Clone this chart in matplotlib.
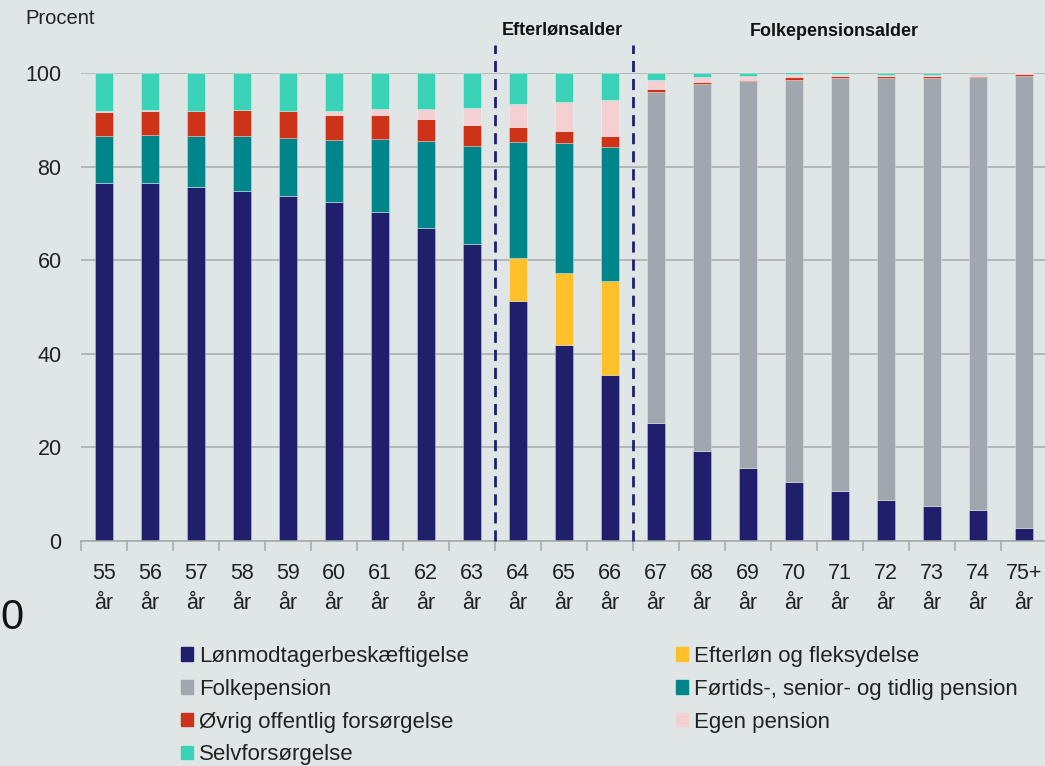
import numpy as np
import matplotlib
matplotlib.use('Agg')
import matplotlib.pyplot as plt
from matplotlib.patches import Patch

# age groups
ages = ['55\når', '56\når', '57\når', '58\når', '59\når', '60\når', '61\når', '62\når', '63\når',
        '64\når', '65\når', '66\når', '67\når', '68\når', '69\når', '70\når', '71\når', '72\når',
        '73\når', '74\når', '75+\når']

# shares in percent (bottom to top)
loenmodtager = [76.6, 76.6, 75.6, 74.7, 73.7, 72.4, 70.2, 66.8, 63.4, 51.3, 41.9, 35.5,
                25.3, 19.3, 15.5, 12.7, 10.6, 8.7, 7.5, 6.6, 2.7]
efterloen = [0, 0, 0, 0, 0, 0, 0, 0, 0, 9.1, 15.4, 20.0,
             0, 0, 0, 0, 0, 0, 0, 0, 0]
folkepension = [0, 0, 0, 0, 0, 0, 0, 0, 0, 0, 0, 0,
                70.6, 78.3, 82.7, 85.9, 88.3, 90.2, 91.4, 92.5, 96.6]
foertids = [9.9, 10.2, 10.9, 11.8, 12.4, 13.3, 15.8, 18.7, 21.0, 24.8, 27.7, 28.6,
            0, 0, 0, 0, 0, 0, 0, 0, 0]
oevrig = [5.2, 5.1, 5.3, 5.5, 5.7, 5.3, 5.0, 4.6, 4.5, 3.3, 2.7, 2.4,
          0.7, 0.4, 0.3, 0.5, 0.45, 0.4, 0.4, 0.3, 0.5]
egen_pension = [0.1, 0.3, 0.1, 0.2, 0.1, 0.9, 1.4, 2.3, 3.7, 4.8, 6.2, 7.7,
                2.0, 1.2, 0.9, 0.6, 0.45, 0.3, 0.3, 0.3, 0.1]
selvforsoergelse = [8.2, 7.8, 8.2, 7.8, 8.2, 8.1, 7.6, 7.6, 7.4, 6.7, 6.1, 5.8,
                    1.4, 0.8, 0.6, 0.5, 0.4, 0.5, 0.5, 0.3, 0.2]

series = [
    ('Lønmodtagerbeskæftigelse', loenmodtager, '#201f6b'),
    ('Efterløn og fleksydelse', efterloen, '#ffc02a'),
    ('Folkepension', folkepension, '#a0a7ae'),
    ('Førtids-, senior- og tidlig pension', foertids, '#00868a'),
    ('Øvrig offentlig forsørgelse', oevrig, '#cd3318'),
    ('Egen pension', egen_pension, '#f5d0d2'),
    ('Selvforsørgelse', selvforsoergelse, '#3ad3b8'),
]
colors = {name: c for name, _, c in series}

BG = '#e0e6e6'
TXT = '#222222'
GRID = '#a6a9ab'
plt.rcParams['font.family'] = ['Liberation Sans', 'DejaVu Sans']

fig = plt.figure(figsize=(10.45, 7.66), dpi=100, facecolor=BG)
ax = fig.add_axes([81 / 1045, 1 - 541 / 766, 966 / 1045, 468 / 766], facecolor=BG)

x = np.arange(len(ages))
bottom = np.zeros(len(ages))
for name, vals, c in series:
    vals = np.array(vals, dtype=float)
    ax.bar(x, vals, width=0.41, bottom=bottom, color=c,
           edgecolor=(1, 1, 1, 0.3), linewidth=0.7, zorder=2)
    bottom += vals

ax.set_xlim(-0.5, len(ages) - 0.5)
ax.set_ylim(0, 100)
ax.set_yticks([0, 20, 40, 60, 80, 100])
ax.yaxis.grid(True, color=GRID, linewidth=1.1, zorder=0)
ax.set_axisbelow(True)
ax.tick_params(axis='y', length=0, pad=14, labelsize=15.5, labelcolor=TXT)

ax.set_xticks(x)
ax.set_xticklabels(ages, linespacing=1.55)
ax.set_xticks(np.arange(-0.5, len(ages)), minor=True)
ax.tick_params(axis='x', which='major', length=0, pad=16, labelsize=15.5, labelcolor=TXT)
ax.tick_params(axis='x', which='minor', length=7, width=1.1, color=GRID)

for s in ['top', 'right', 'left']:
    ax.spines[s].set_visible(False)
ax.spines['bottom'].set_color(GRID)
ax.spines['bottom'].set_linewidth(1.1)

# dashed separators between age regimes
for xv in [8.5, 11.5]:
    ax.plot([xv, xv], [0, 106], color='#1f1f6b', linestyle=(0, (4, 2.5)),
            linewidth=2, clip_on=False, zorder=3)

fig.text(562 / 1045, 1 - 30 / 766, 'Efterlønsalder', ha='center', va='center',
         fontsize=13, fontweight='bold', color='#111111')
fig.text(834 / 1045, 1 - 32 / 766, 'Folkepensionsalder', ha='center', va='center',
         fontsize=13, fontweight='bold', color='#111111')
fig.text(25 / 1045, 1 - 19 / 766, 'Procent', ha='left', va='center', fontsize=14.5, color=TXT)

# stray digit at the left edge of the reference
fig.text(0.0, 1 - 618 / 766, '0', ha='left', va='center', fontsize=30, color='#111111')

col1 = ['Lønmodtagerbeskæftigelse', 'Folkepension', 'Øvrig offentlig forsørgelse', 'Selvforsørgelse']
col2 = ['Efterløn og fleksydelse', 'Førtids-, senior- og tidlig pension', 'Egen pension']
leg_kw = dict(loc='upper left', frameon=False, fontsize=16, handlelength=0.55, handleheight=0.55,
              handletextpad=0.25, labelspacing=0.53, borderpad=0, borderaxespad=0, labelcolor=TXT)
fig.legend([Patch(color=colors[n]) for n in col1], col1,
           bbox_to_anchor=(181 / 1045, 1 - 646 / 766), **leg_kw)
fig.legend([Patch(color=colors[n]) for n in col2], col2,
           bbox_to_anchor=(676 / 1045, 1 - 646 / 766), **leg_kw)

fig.savefig('out.png', dpi=100, facecolor=BG)
